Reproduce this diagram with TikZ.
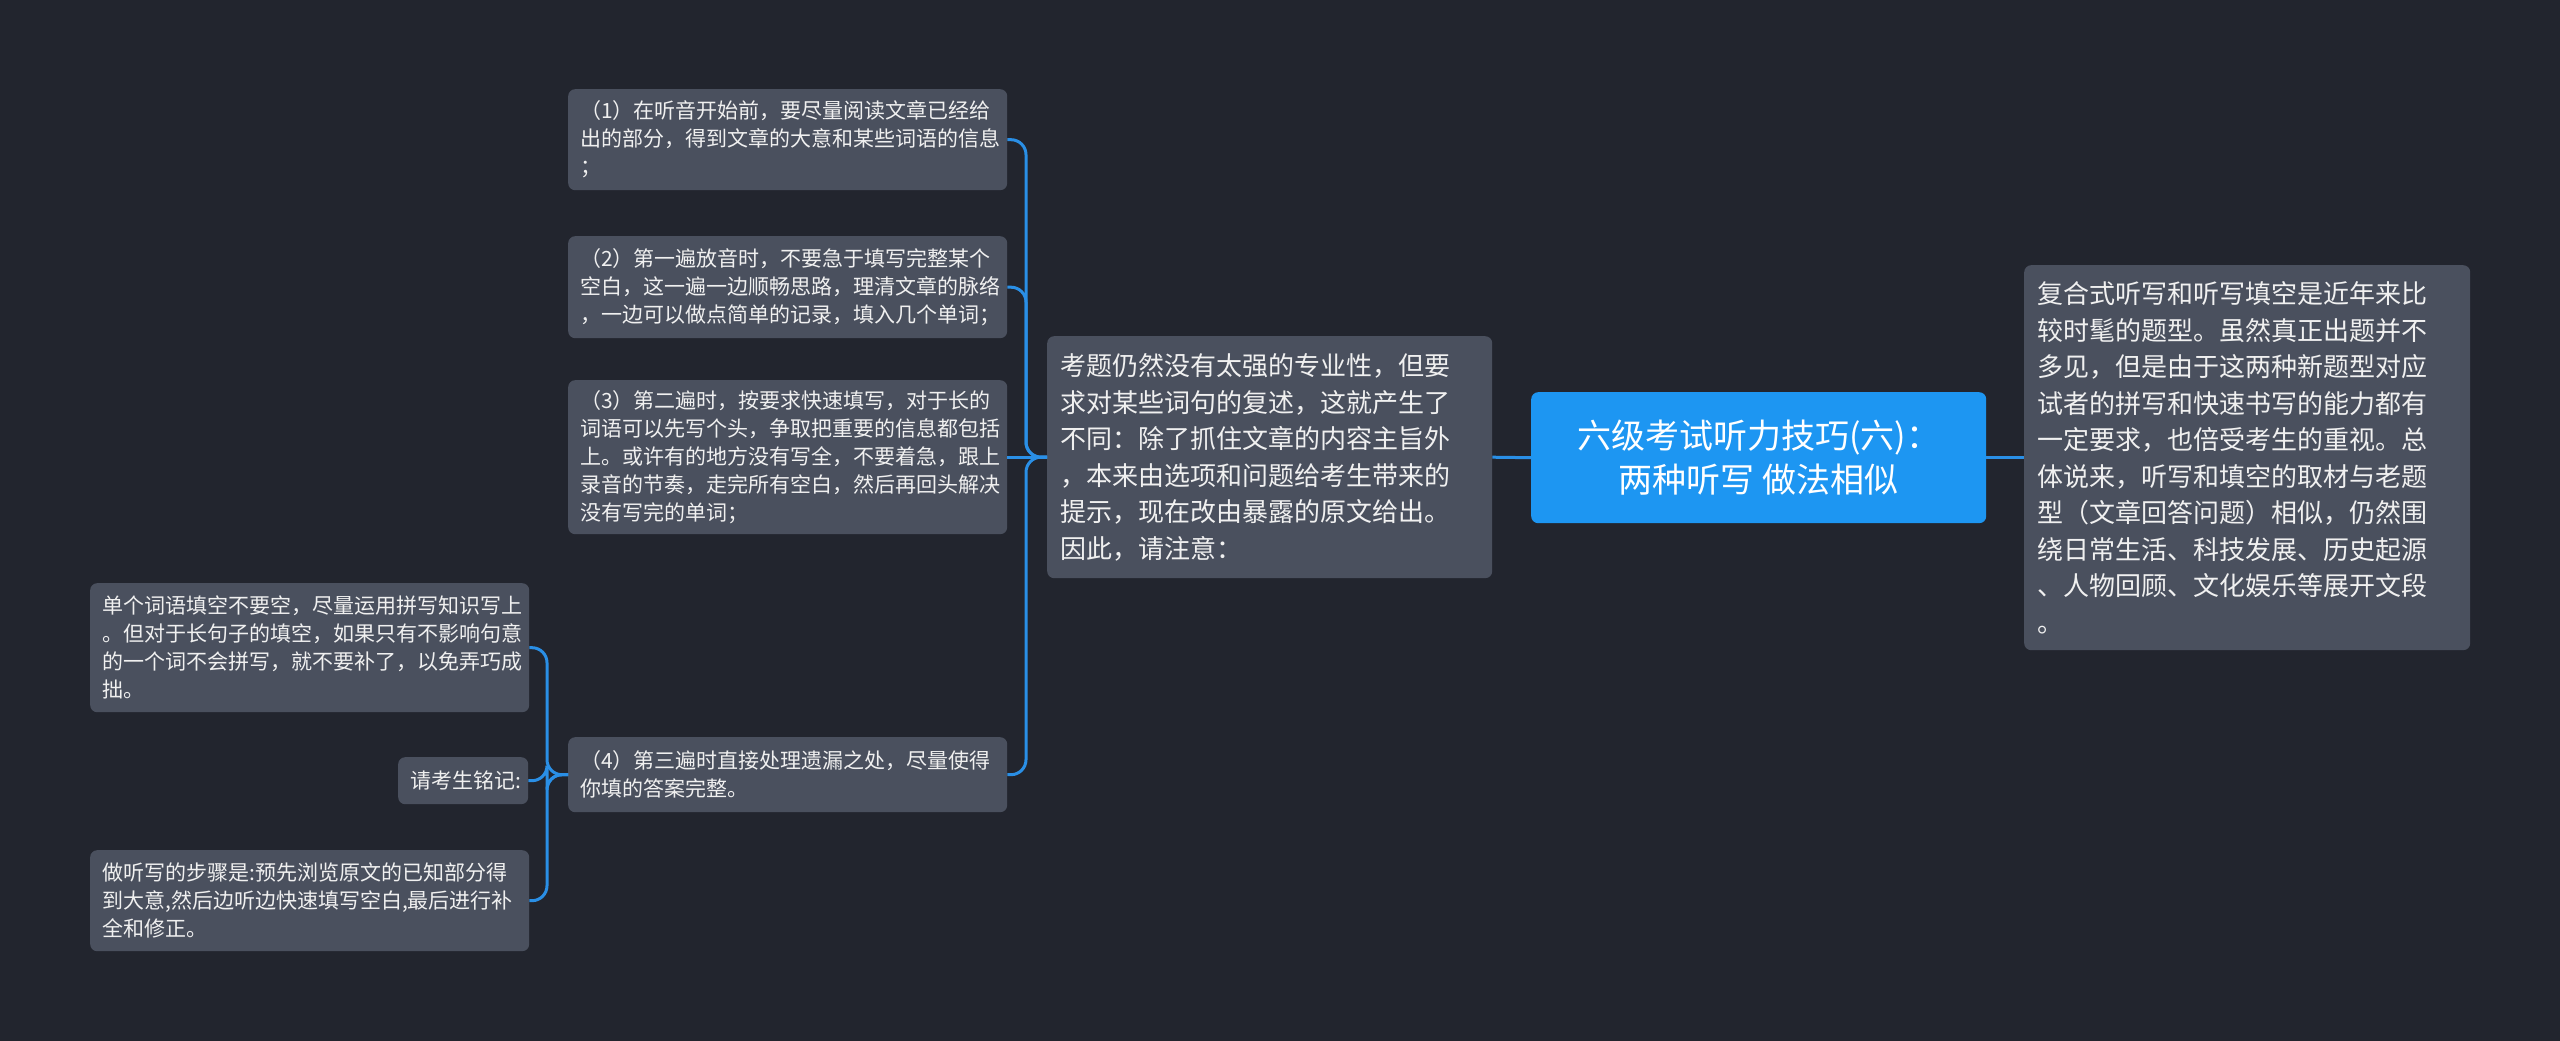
\documentclass[tikz,border=0pt]{standalone}
\usepackage{fontspec}
\setmainfont{Noto Sans CJK SC}
\definecolor{bgc}{HTML}{22252E}
\definecolor{boxc}{HTML}{4A505E}
\definecolor{bluec}{HTML}{1D96F2}
\definecolor{connc}{HTML}{2A8FE6}
\definecolor{txtc}{HTML}{F0F0F0}
\tikzset{
  card/.style={anchor=north west, fill=boxc, rounded corners=7pt, text=txtc,
    inner xsep=12pt, inner ysep=3pt, align=left},
  smallcard/.style={card, font=\fontsize{21}{28}\selectfont, text width=#1-24pt},
  bigcard/.style={card, font=\fontsize{26}{36.5}\selectfont, text width=#1-26pt, inner xsep=13pt},
  rootcard/.style={anchor=north west, fill=bluec, rounded corners=7pt, text=white,
    align=center, font=\fontsize{34}{44}\selectfont, inner sep=4pt},
  conn/.style={draw=connc, line width=3pt, rounded corners=15pt}
}
\begin{document}
\begin{tikzpicture}[x=1pt,y=-1pt]
\fill[bgc] (0,0) rectangle (2560,1041);
\useasboundingbox (0,0) rectangle (2560,1041);

\node[rootcard, minimum width=455pt, minimum height=131pt] (root) at (1531,392)
  {六级考试听力技巧(六)：\\两种听写 做法相似};

\node[bigcard=446pt, minimum height=385pt] (right) at (2024,265)
  {复合式听写和听写填空是近年来比\\较时髦的题型。虽然真正出题并不\\多见，但是由于这两种新题型对应\\试者的拼写和快速书写的能力都有\\一定要求，也倍受考生的重视。总\\体说来，听写和填空的取材与老题\\型（文章回答问题）相似，仍然围\\绕日常生活、科技发展、历史起源\\、人物回顾、文化娱乐等展开文段\\。};

\node[bigcard=445pt, minimum height=242pt] (mid) at (1047,336)
  {考题仍然没有太强的专业性，但要\\求对某些词句的复述，这就产生了\\不同：除了抓住文章的内容主旨外\\，本来由选项和问题给考生带来的\\提示，现在改由暴露的原文给出。\\因此，请注意：};

\node[smallcard=439pt, minimum height=101pt] (n1) at (568,89)
  {（1）在听音开始前，要尽量阅读文章已经给\\出的部分，得到文章的大意和某些词语的信息\\；};
\node[smallcard=439pt, minimum height=102pt] (n2) at (568,236)
  {（2）第一遍放音时，不要急于填写完整某个\\空白，这一遍一边顺畅思路，理清文章的脉络\\，一边可以做点简单的记录，填入几个单词；};
\node[smallcard=439pt, minimum height=154pt] (n3) at (568,380)
  {（3）第二遍时，按要求快速填写，对于长的\\词语可以先写个头，争取把重要的信息都包括\\上。或许有的地方没有写全，不要着急，跟上\\录音的节奏，走完所有空白，然后再回头解决\\没有写完的单词；};
\node[smallcard=439pt, minimum height=75pt] (n4) at (568,737)
  {（4）第三遍时直接处理遗漏之处，尽量使得\\你填的答案完整。};

\node[smallcard=439pt, minimum height=129pt] (a) at (90,583)
  {单个词语填空不要空，尽量运用拼写知识写上\\。但对于长句子的填空，如果只有不影响句意\\的一个词不会拼写，就不要补了，以免弄巧成\\拙。};
\node[smallcard=130pt, minimum height=47pt] (b) at (398,757)
  {请考生铭记:};
\node[smallcard=439pt, minimum height=101pt] (c) at (90,850)
  {做听写的步骤是:预先浏览原文的已知部分得\\到大意,然后边听边快速填写空白,最后进行补\\全和修正。};

\draw[conn] (root.west) -- (mid.east);
\draw[conn] (root.east) -- (right.west);

\foreach \t in {n1,n2,n4}
  \draw[conn] (mid.west) -- ++(-21,0) |- (\t.east);
\draw[conn] (mid.west) -- (n3.east);
\foreach \t in {a,b,c}
  \draw[conn] (n4.west) -- ++(-21,0) |- (\t.east);
\end{tikzpicture}
\end{document}
